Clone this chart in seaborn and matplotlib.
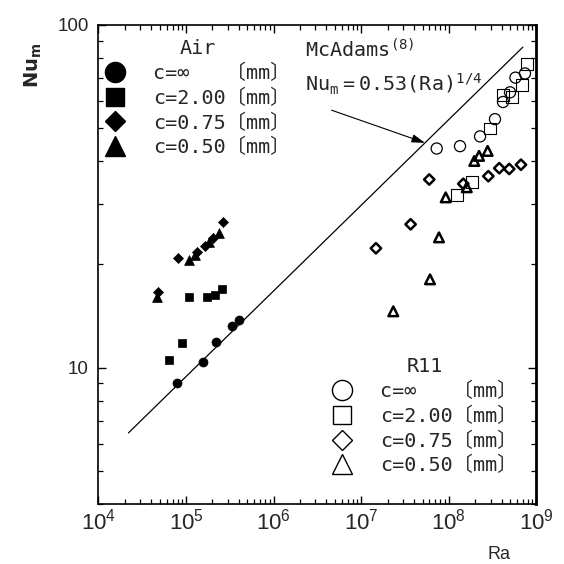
import matplotlib
matplotlib.use("Agg")
import matplotlib.pyplot as plt
import seaborn as sns
import numpy as np
import pandas as pd
from matplotlib.lines import Line2D
from matplotlib.ticker import FuncFormatter, NullFormatter, LogLocator

# ---------------- data ----------------
# Air (filled markers)
air_inf_ra = [7.8e4, 1.57e5, 2.19e5, 3.34e5, 4.05e5]
air_inf_nu = [9.0, 10.4, 11.9, 13.2, 13.8]
air_200_ra = [6.43e4, 9.05e4, 1.08e5, 1.72e5, 2.14e5, 2.57e5]
air_200_nu = [10.5, 11.8, 16.1, 16.1, 16.3, 17.0]
air_075_ra = [4.8e4, 8.0e4, 1.35e5, 1.66e5, 2.01e5, 2.66e5]
air_075_nu = [16.6, 20.9, 21.8, 22.7, 23.9, 26.6]
air_050_ra = [4.7e4, 1.09e5, 1.28e5, 1.85e5, 2.38e5]
air_050_nu = [16.1, 20.6, 21.3, 23.3, 24.7]

# R11 (open markers)
r11_inf_ra = [7.26e7, 1.34e8, 2.27e8, 3.36e8, 4.15e8, 4.99e8, 5.76e8, 7.39e8]
r11_inf_nu = [43.6, 44.3, 47.3, 53.1, 59.6, 63.6, 70.2, 72.2]
r11_200_ra = [1.23e8, 1.82e8, 2.95e8, 4.11e8, 5.21e8, 6.78e8, 7.73e8]
r11_200_nu = [31.9, 34.8, 49.9, 62.4, 61.7, 66.7, 76.9]
r11_075_ra = [1.47e7, 3.66e7, 5.97e7, 1.46e8, 2.82e8, 3.76e8, 4.89e8, 6.65e8]
r11_075_nu = [22.3, 26.2, 35.4, 34.4, 36.2, 38.2, 38.0, 39.1]
r11_050_ra = [2.32e7, 6.09e7, 7.71e7, 9.2e7, 1.6e8, 1.95e8, 2.21e8, 2.77e8]
r11_050_nu = [14.6, 18.1, 24.0, 31.4, 33.6, 40.1, 41.5, 42.9]

# McAdams correlation Nu_m = 0.53 Ra^(1/4), drawn between these end points
mc_ra = [2.2e4, 7.0e8]
mc_nu = [6.45, 86.2]

legend_labels = ["c=\u221e   \u3014mm\u3015",
                 "c=2.00\u3014mm\u3015",
                 "c=0.75\u3014mm\u3015",
                 "c=0.50\u3014mm\u3015"]
x_ticks = [1e4, 1e5, 1e6, 1e7, 1e8, 1e9]
y_ticks = [10, 100]

# ---------------- style ----------------
sns.set_style("ticks")
plt.rcParams["font.family"] = ["Liberation Sans", "DejaVu Sans"]
plt.rcParams["mathtext.fontset"] = "dejavusans"

MONO = ["DejaVu Sans Mono", "Noto Sans CJK JP", "DejaVu Sans"]
NARROW = ["Liberation Sans Narrow", "Liberation Sans", "DejaVu Sans"]

fig = plt.figure(figsize=(5.64, 5.64), dpi=100)
ax = fig.add_axes([0.1746, 0.1064, 0.7766, 0.8493])
ax.set_xscale("log")
ax.set_yscale("log")

# McAdams line
sns.lineplot(x=mc_ra, y=mc_nu, ax=ax, color="black", linewidth=0.9, sort=False)

# Air filled
sns.scatterplot(x=air_inf_ra, y=air_inf_nu, ax=ax, marker="o", s=42,
                color="black", edgecolor="black", linewidth=0.5)
sns.scatterplot(x=air_200_ra, y=air_200_nu, ax=ax, marker="s", s=34,
                color="black", edgecolor="black", linewidth=0.5)
sns.scatterplot(x=air_075_ra, y=air_075_nu, ax=ax, marker="D", s=26,
                color="black", edgecolor="black", linewidth=0.5)
sns.scatterplot(x=air_050_ra, y=air_050_nu, ax=ax, marker="^", s=50,
                color="black", edgecolor="black", linewidth=0.5)

# R11 open
sns.scatterplot(x=r11_inf_ra, y=r11_inf_nu, ax=ax, marker="o", s=64,
                color="black", facecolor="none", edgecolor="black", linewidth=0.9)
sns.scatterplot(x=r11_200_ra, y=r11_200_nu, ax=ax, marker="s", s=72,
                color="black", facecolor="none", edgecolor="black", linewidth=0.8)
sns.scatterplot(x=r11_075_ra, y=r11_075_nu, ax=ax, marker="D", s=28,
                color="black", facecolor="none", edgecolor="black", linewidth=1.8)
sns.scatterplot(x=r11_050_ra, y=r11_050_nu, ax=ax, marker="^", s=48,
                color="black", facecolor="none", edgecolor="black", linewidth=1.8)

ax.set_xlim(1e4, 1e9)
ax.set_ylim(4, 100)

# ticks
ax.set_xticks(x_ticks)
ax.set_yticks(y_ticks)
ax.xaxis.set_minor_locator(LogLocator(base=10, subs=np.arange(2, 10)))
ax.yaxis.set_minor_locator(LogLocator(base=10, subs=np.arange(2, 10)))
ax.yaxis.set_major_formatter(FuncFormatter(lambda v, p: f"{v:g}"))
ax.yaxis.set_minor_formatter(NullFormatter())
ax.xaxis.set_minor_formatter(NullFormatter())
ax.tick_params(which="both", direction="in", top=True, right=True, color="black")
ax.tick_params(which="major", length=6, width=1.0)
ax.tick_params(which="minor", length=3.5, width=0.9)
ax.tick_params(axis="x", which="major", labelsize=16, pad=3)
ax.tick_params(axis="y", which="major", labelsize=13.5, pad=7)
for t in ax.get_xticklabels():
    t.set_fontfamily(NARROW)
for t in ax.get_yticklabels():
    t.set_fontfamily(["Liberation Sans", "DejaVu Sans"])

for s in ax.spines.values():
    s.set_linewidth(1.2)
    s.set_color("black")
ax.spines["right"].set_linewidth(2.0)

# labels
ax.set_xlabel("Ra", fontsize=13, family=NARROW)
ax.xaxis.set_label_coords(0.914, -0.088)
ax.set_ylabel(r"$\mathbf{Nu}_{\mathbf{m}}$", fontsize=14)
ax.yaxis.set_label_coords(-0.125, 0.915)

# McAdams annotation
ax.text(0.4715, 0.948, r"$\mathtt{McAdams}^{\mathtt{(8)}}$", transform=ax.transAxes,
        fontsize=14.5, ha="left", va="center")
ax.text(0.4715, 0.875, r"$\mathtt{Nu}_{\mathtt{m}}\mathtt{=0.53(Ra)}^{\mathtt{1/4}}$",
        transform=ax.transAxes, fontsize=14.5, ha="left", va="center")
ax.annotate("", xy=(5.33e7, 45.3), xytext=(4.59e6, 56.4),
            arrowprops=dict(arrowstyle="-|>,head_length=0.8,head_width=0.25",
                            color="black", lw=0.8, shrinkA=0, shrinkB=0))

# legends
def make_handles(filled):
    specs = [("o", 14.5), ("s", 13.5), ("D", 10), ("^", 14.5)]
    hs = []
    for m, ms in specs:
        if filled:
            hs.append(Line2D([], [], linestyle="none", marker=m, markersize=ms,
                             markerfacecolor="black", markeredgecolor="black"))
        else:
            hs.append(Line2D([], [], linestyle="none", marker=m, markersize=ms,
                             markerfacecolor="none", markeredgecolor="black",
                             markeredgewidth=1.0))
    return hs

leg_kw = dict(loc="upper left", frameon=False, borderpad=0, borderaxespad=0,
              handlelength=1.0, handletextpad=1.39, labelspacing=0.28,
              prop={"family": MONO, "size": 14.5},
              title_fontproperties={"family": MONO, "size": 14.5})

leg1 = ax.legend(make_handles(True), legend_labels, title="Air",
                 bbox_to_anchor=(0.0146, 0.971), **leg_kw)
ax.add_artist(leg1)
leg2 = ax.legend(make_handles(False), legend_labels, title="R11",
                 bbox_to_anchor=(0.533, 0.307), **leg_kw)

fig.savefig("out.png", dpi=100)
